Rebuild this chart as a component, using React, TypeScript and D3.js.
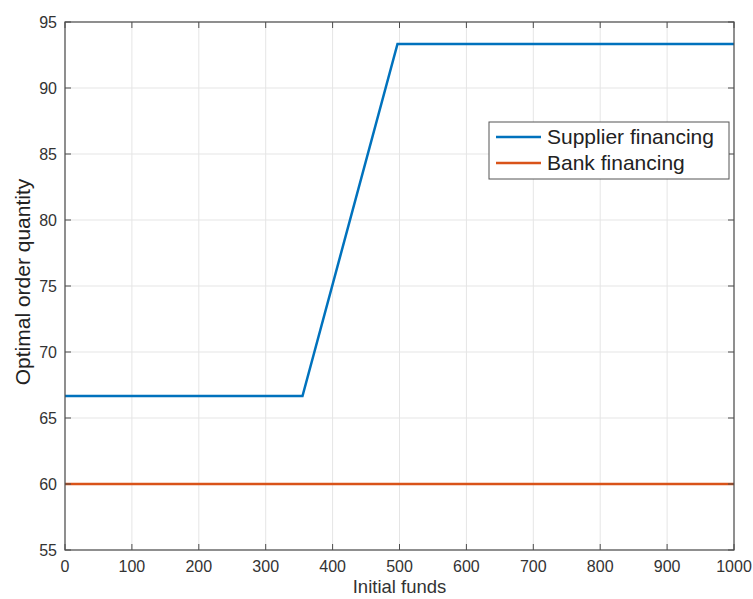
import React from 'react';
import * as d3 from 'd3';

// initial funds (x) and optimal order quantity (y)
const supplierFunds = [0, 355, 497, 1000];
const supplierQty = [66.67, 66.67, 93.33, 93.33];
const bankFunds = [0, 1000];
const bankQty = [60, 60];
const xTicks = [0, 100, 200, 300, 400, 500, 600, 700, 800, 900, 1000];
const yTicks = [55, 60, 65, 70, 75, 80, 85, 90, 95];
const seriesNames = ['Supplier financing', 'Bank financing'];
const seriesColors = ['#0072BD', '#D95319'];

const W = 753;
const H = 599;
const margin = { left: 65, right: 19, top: 22, bottom: 49 };
const font = 'Liberation Sans, Arial, Helvetica, sans-serif';

const App = () => {
  const x = d3.scaleLinear().domain([0, 1000]).range([margin.left, W - margin.right]);
  const y = d3.scaleLinear().domain([55, 95]).range([H - margin.bottom, margin.top]);

  const line = d3.line<[number, number]>()
    .x(d => x(d[0]))
    .y(d => y(d[1]));

  const supplier = supplierFunds.map((f, i) => [f, supplierQty[i]] as [number, number]);
  const bank = bankFunds.map((f, i) => [f, bankQty[i]] as [number, number]);

  const x0 = x(0), x1 = x(1000), y0 = y(55), y1 = y(95);
  const axisColor = '#4d4d4d';

  const legX = 489, legY = 122, legW = 240, legH = 57;

  return (
    <svg width={W} height={H} style={{ position: 'absolute', left: 0, top: 0, background: '#fff' }}>
      <rect width={W} height={H} fill="#fff" />
      {/* grid */}
      {xTicks.map(t => (
        <line key={'gx' + t} x1={x(t)} x2={x(t)} y1={y0} y2={y1} stroke="#e5e5e5" strokeWidth={1} />
      ))}
      {yTicks.map(t => (
        <line key={'gy' + t} x1={x0} x2={x1} y1={y(t)} y2={y(t)} stroke="#e5e5e5" strokeWidth={1} />
      ))}
      {/* series */}
      <path d={line(bank) || ''} fill="none" stroke={seriesColors[1]} strokeWidth={2.5} />
      <path d={line(supplier) || ''} fill="none" stroke={seriesColors[0]} strokeWidth={2.5} strokeLinejoin="miter" />
      {/* box */}
      <rect x={x0} y={y1} width={x1 - x0} height={y0 - y1} fill="none" stroke={axisColor} strokeWidth={1.2} />
      {/* ticks */}
      {xTicks.map(t => (
        <g key={'tx' + t}>
          <line x1={x(t)} x2={x(t)} y1={y0} y2={y0 - 6} stroke={axisColor} />
          <line x1={x(t)} x2={x(t)} y1={y1} y2={y1 + 6} stroke={axisColor} />
          <text x={x(t)} y={y0 + 22} textAnchor="middle" fontFamily={font} fontSize={16} fill="#333">{t}</text>
        </g>
      ))}
      {yTicks.map(t => (
        <g key={'ty' + t}>
          <line x1={x0} x2={x0 + 6} y1={y(t)} y2={y(t)} stroke={axisColor} />
          <line x1={x1} x2={x1 - 6} y1={y(t)} y2={y(t)} stroke={axisColor} />
          <text x={x0 - 8} y={y(t) + 6} textAnchor="end" fontFamily={font} fontSize={16} fill="#333">{t}</text>
        </g>
      ))}
      {/* axis labels */}
      <text x={(x0 + x1) / 2} y={H - 6} textAnchor="middle" fontFamily={font} fontSize={18.5} fill="#333">Initial funds</text>
      <text transform={`translate(30, 282) rotate(-90)`} textAnchor="middle" fontFamily={font} fontSize={21} fill="#222">Optimal order quantity</text>
      {/* legend */}
      <rect x={legX} y={legY} width={legW} height={legH} fill="#fff" stroke="#555" strokeWidth={1} />
      {seriesNames.map((name, i) => (
        <g key={name}>
          <line x1={legX + 7} x2={legX + 52} y1={legY + 15 + i * 26} y2={legY + 15 + i * 26} stroke={seriesColors[i]} strokeWidth={2.5} />
          <text x={legX + 58} y={legY + 22 + i * 26} fontFamily={font} fontSize={21} fill="#222">{name}</text>
        </g>
      ))}
    </svg>
  );
};

export default App;
